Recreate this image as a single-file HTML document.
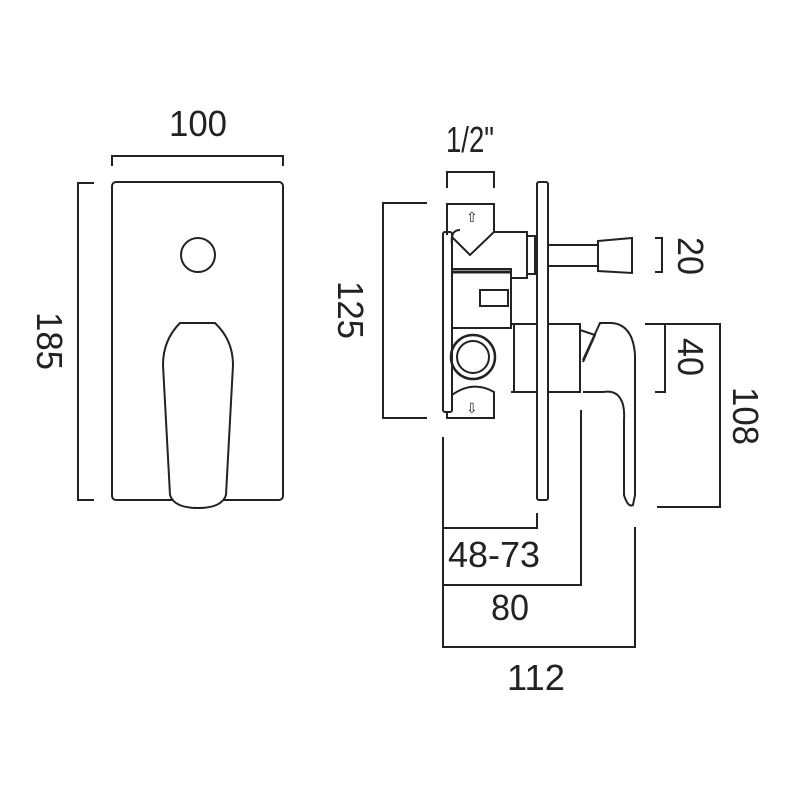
<!DOCTYPE html>
<html><head><style>html,body{margin:0;padding:0;background:#fff}svg{display:block}
text{font-family:"Liberation Sans",sans-serif;font-size:36px;fill:#222}</style></head><body>
<svg width="800" height="800" viewBox="0 0 800 800" xmlns="http://www.w3.org/2000/svg">
<g fill="none" stroke="#222" stroke-width="2">
<rect x="112" y="182" width="171" height="318" rx="4"/>
<circle cx="198" cy="255" r="17"/>
<path d="M180 323 L215 323 Q233 340 233 365 L226 495 Q222 508 198 508 Q174 508 170 495 L163 365 Q163 340 180 323 Z" fill="#fff"/>
<path d="M94 183 L78 183 L78 500 L94 500"/>
<path d="M112 166 L112 156 L283 156 L283 166"/>
<path d="M447 188 L447 172 L494 172 L494 188"/>
<rect x="537" y="182" width="11" height="318" rx="2"/>
<path d="M447 235 L447 204 L494 204 L494 232 L470 255 L452 237"/>
<path d="M494 232 L527 232 L527 278 L511 278"/>
<rect x="527" y="236" width="8" height="38"/>
<path d="M548 245 L598 245 M548 266 L598 266"/>
<path d="M598 241 L632 238 L632 273 L598 271 Z"/>
<path d="M655 238 L662 238 L662 272 L655 272"/>
<rect x="452" y="269" width="59" height="59"/>
<path d="M452 272 L511 272" stroke-width="3"/>
<rect x="480" y="290" width="28" height="16"/>
<rect x="443" y="232" width="9" height="180" rx="2"/>
<path d="M452 245 Q450 230 460 230"/>
<circle cx="473" cy="357" r="22" stroke-width="2.5"/>
<circle cx="473" cy="357" r="16"/>
<path d="M511 324 L537 324 M511 392 L537 392 M514 324 L514 392"/>
<path d="M548 324 L580 324 L580 392 L548 392"/>
<path d="M452 395 Q473 380 494 392 L494 418 L447 418 L447 412"/>
<path d="M580 330 L595 335 L583 362"/>
<path d="M583 392 L603 392 Q615 390 620 398 Q625 405 624 420 L624 495 Q628 508 633 505 L635 495 L635 355 Q633 325 612 323 L600 323 L583 360"/>
<path d="M645 324 L720 324 L720 507 L657 507"/>
<path d="M655 324 L665 324 L665 392 L655 392"/>
<path d="M427 203 L383 203 L383 418 L427 418"/>
<path d="M443 437 L443 647 L635 647 L635 527"/>
<path d="M443 528 L537 528 L537 513"/>
<path d="M443 585 L581 585 L581 410"/>
</g>
<text x="466" y="222" style="font-size:14px">⇧</text>
<text x="466" y="413" style="font-size:14px">⇩</text>
<text x="198" y="136" text-anchor="middle" textLength="58" lengthAdjust="spacingAndGlyphs">100</text>
<text x="470" y="152" text-anchor="middle" textLength="48" lengthAdjust="spacingAndGlyphs">1/2"</text>
<text x="494" y="567" text-anchor="middle" textLength="92" lengthAdjust="spacingAndGlyphs">48-73</text>
<text x="510" y="620" text-anchor="middle" textLength="38" lengthAdjust="spacingAndGlyphs">80</text>
<text x="536" y="690" text-anchor="middle" textLength="58" lengthAdjust="spacingAndGlyphs">112</text>
<text transform="translate(37,341) rotate(90)" text-anchor="middle" textLength="58" lengthAdjust="spacingAndGlyphs">185</text>
<text transform="translate(338,310) rotate(90)" text-anchor="middle" textLength="58" lengthAdjust="spacingAndGlyphs">125</text>
<text transform="translate(678,256) rotate(90)" text-anchor="middle" textLength="38" lengthAdjust="spacingAndGlyphs">20</text>
<text transform="translate(678,357) rotate(90)" text-anchor="middle" textLength="38" lengthAdjust="spacingAndGlyphs">40</text>
<text transform="translate(733,416) rotate(90)" text-anchor="middle" textLength="58" lengthAdjust="spacingAndGlyphs">108</text>
</svg>
</body></html>
